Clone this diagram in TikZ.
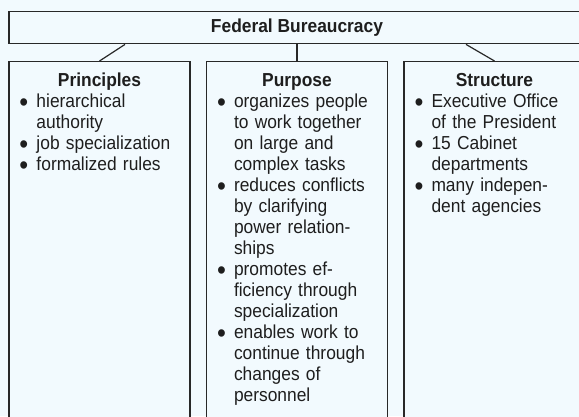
\documentclass[tikz,border=0pt]{standalone}
\usepackage{fontspec}
\usepackage{graphicx}
\setmainfont{Liberation Sans}[FakeStretch=0.925]
\usetikzlibrary{positioning}
\definecolor{paper}{RGB}{242,250,254}
\definecolor{edge}{RGB}{40,40,40}
\definecolor{ink}{RGB}{30,30,30}
\newcommand\bul{\makebox[17pt][l]{\smash{\raisebox{-4.5pt}{\scalebox{1.45}{\textbullet}}}}}
\newcommand\ind{\hspace*{17pt}}

\begin{document}
\begin{tikzpicture}[x=1pt,y=-1pt,
	frame/.style={draw=edge, line width=1.4pt, fill=paper, inner sep=0pt},
	column/.style={frame, minimum width=181pt, minimum height=370pt, anchor=north},
	head/.style={font=\fontsize{18.8}{21}\selectfont\bfseries, text=ink, inner sep=0pt, anchor=base},
	items/.style={font=\fontsize{18.8}{21}\selectfont, text=ink, inner sep=0pt, text width=168pt, align=left, anchor=base west}]
	\useasboundingbox (0,0) rectangle (579,416);
	\clip (0,0) rectangle (579,416);
	\fill[paper] (0,0) rectangle (579,416);

	\node[frame, minimum width=576pt, minimum height=32pt, anchor=north, font=\fontsize{18.8}{21}\selectfont\bfseries, text=ink] (fed) at (297,11) {Federal Bureaucracy};

	\foreach \nm/\xc/\hd in {prin/99.5/Principles, purp/297/Purpose, stru/494.5/Structure}
	{
		\node[column] (\nm) at (\xc,61) {};
		\node[head] (\nm-head) at ([shift={(0,25.5)}]\nm.north) {\hd};
	}

	\foreach \nm/\dx in {prin/-172, purp/0, stru/169}
	\draw[edge, line width=1.2pt] ([xshift=\dx pt]fed.south) -- (\nm.north);

	\node[items] (prin-list) at ([shift={(11,46)}]prin.north west)
		{\bul hierarchical\\ \ind authority\\ \bul job specialization\\ \bul formalized rules};
	\node[items] (purp-list) at ([shift={(11,46)}]purp.north west)
		{\bul organizes people\\ \ind to work together\\ \ind on large and\\ \ind complex tasks\\
		 \bul reduces conflicts\\ \ind by clarifying\\ \ind power relation-\\ \ind ships\\
		 \bul promotes ef-\\ \ind ficiency through\\ \ind specialization\\
		 \bul enables work to\\ \ind continue through\\ \ind changes of\\ \ind personnel};
	\node[items] (stru-list) at ([shift={(11,46)}]stru.north west)
		{\bul Executive Office\\ \ind of the President\\ \bul 15 Cabinet\\ \ind departments\\ \bul many indepen-\\ \ind dent agencies};
\end{tikzpicture}
\end{document}
